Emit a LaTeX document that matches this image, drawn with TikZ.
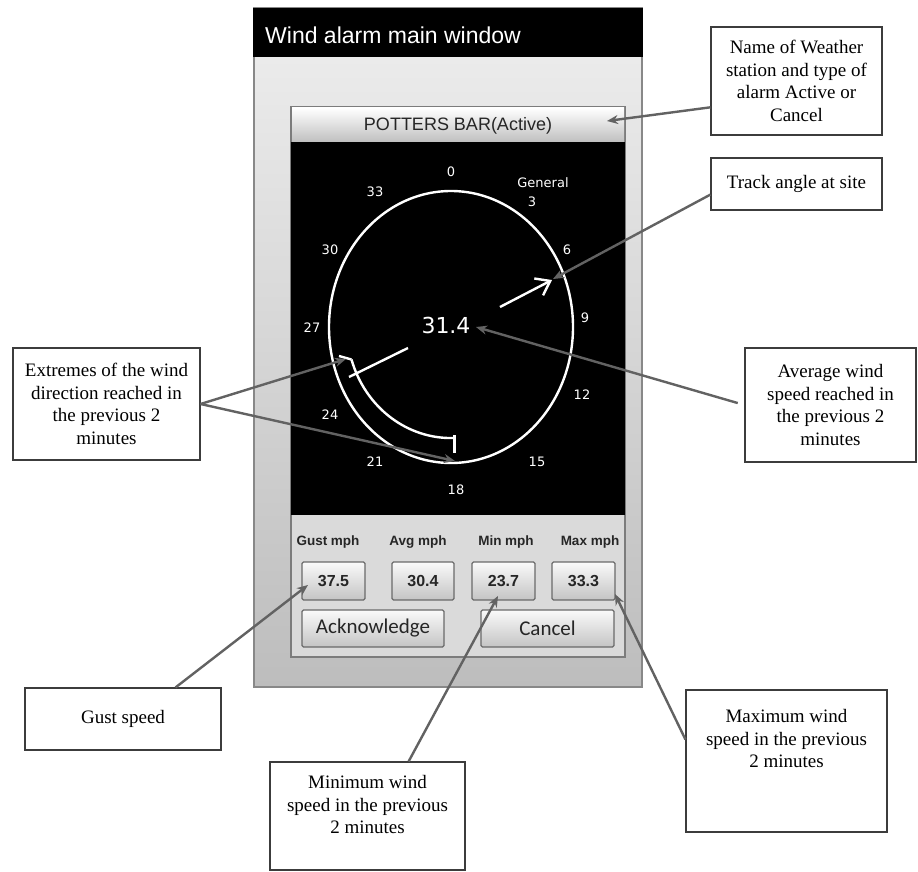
\documentclass[tikz,border=0pt]{standalone}
\usepackage{fontspec}
\setmainfont{Liberation Serif}
\newfontfamily\uisans{Liberation Sans}
\newfontfamily\dialfont{DejaVu Sans}
\newfontfamily\btnfont{Carlito}
\usetikzlibrary{arrows.meta}
\definecolor{callgray}{HTML}{626262}
\definecolor{boxline}{HTML}{3C3C3C}
\definecolor{wintop}{HTML}{EBEBEB}
\definecolor{winbot}{HTML}{BDBDBD}
\definecolor{winedge}{HTML}{888888}
\definecolor{panelfill}{HTML}{DADADA}
\definecolor{paneledge}{HTML}{7C7C7C}
\definecolor{btntop}{HTML}{FAFAFA}
\definecolor{btnbot}{HTML}{C4C4C4}
\definecolor{btnedge}{HTML}{6A6A6A}
\begin{document}
\begin{tikzpicture}[x=1pt,y=-1pt,
  callout/.style={draw=boxline, line width=1.1pt, fill=white, align=center,
    font=\fontsize{19}{22.5}\selectfont, inner sep=2pt},
  pointer/.style={draw=callgray, line width=2.4pt, -{Stealth[length=11pt,width=9pt]}},
  dialnum/.style={text=white, font=\dialfont\fontsize{13}{15}\selectfont, inner sep=0pt},
  collabel/.style={font=\uisans\bfseries\fontsize{13.5}{15}\selectfont, inner sep=0pt, text=black!85},
  valbox/.style={draw=btnedge, line width=1.2pt, rounded corners=1.5pt, top color=btntop,
    bottom color=btnbot, minimum height=38pt, font=\uisans\bfseries\fontsize{16}{18}\selectfont,
    inner sep=0pt, text=black!85},
  btn/.style={draw=btnedge, line width=1.2pt, rounded corners=1.5pt, top color=btntop,
    bottom color=btnbot, minimum height=37pt, font=\btnfont\fontsize{21}{24}\selectfont,
    inner sep=0pt, text=black!85},
  whiteline/.style={draw=white, line width=2.4pt}
]
\useasboundingbox (0,0) rectangle (918,872);
\fill[white] (0,0) rectangle (918,872);

% window
\shade[top color=wintop, bottom color=winbot] (254,57) rectangle (642,687);
\draw[winedge, line width=1.8pt] (254,8) rectangle (642,687);
\fill[black] (253,8) rectangle (643,57);
\node[anchor=west, text=white, font=\uisans\fontsize{23}{26}\selectfont, inner sep=0pt]
  (title) at (265,35) {Wind alarm main window};

% inner panel
\filldraw[fill=panelfill, draw=paneledge, line width=1.5pt] (291,107) rectangle (625,657);
\shade[top color=white, bottom color=black!25] (292,108) rectangle (624,142);
\node[font=\uisans\fontsize{18}{20}\selectfont, inner sep=0pt, text=black!85]
  (header) at (458,126) {POTTERS BAR(Active)};
\fill[black] (291,142) rectangle (625,515);

% dial
\draw[whiteline] (451,327) ellipse [x radius=122, y radius=136];
\node[dialnum] (d0)  at (451,172) {0};
\node[dialnum] (d33) at (375,192) {33};
\node[dialnum] (gen) at (543,183) {General};
\node[dialnum] (d3)  at (532,202) {3};
\node[dialnum] (d30) at (330,250) {30};
\node[dialnum] (d6)  at (567,250) {6};
\node[dialnum] (d27) at (312,328) {27};
\node[dialnum] (d9)  at (585,318) {9};
\node[dialnum] (d12) at (582,395) {12};
\node[dialnum] (d24) at (330,415) {24};
\node[dialnum] (d21) at (375,462) {21};
\node[dialnum] (d15) at (537,462) {15};
\node[dialnum] (d18) at (456,490) {18};
\node[text=white, font=\dialfont\fontsize{22}{24}\selectfont, inner sep=0pt] (avg) at (446,325) {31.4};

% track arrow
\coordinate (trackS) at (500,307);
\coordinate (trackE) at (552,280);
\draw[whiteline, -{Straight Barb[length=13pt,width=19pt]}] (trackS) -- (trackE);

% extremes arc
\coordinate (arcA) at (351.5,359.5);
\coordinate (arcAt) at (339,356);
\coordinate (arcBt1) at (454.6,435);
\coordinate (arcBt2) at (454.6,453);
\draw[whiteline] (arcA) arc[start angle=163, end angle=88, x radius=104, y radius=111];
\draw[whiteline] (arcA) -- (arcAt);
\draw[whiteline] (arcBt1) -- (arcBt2);
\coordinate (needS) at (408,348);
\coordinate (needE) at (349,377);
\draw[whiteline] (needS) -- (needE);

% lower panel
\node[collabel] (lg) at (328,542) {Gust mph};
\node[collabel] (la) at (418,542) {Avg mph};
\node[collabel] (lmin) at (506,542) {Min mph};
\node[collabel] (lmax) at (590,542) {Max mph};
\node[valbox, minimum width=63pt] (vg) at (333.5,581) {37.5};
\node[valbox, minimum width=62pt] (va) at (423,581) {30.4};
\node[valbox, minimum width=63pt] (vmin) at (503.5,581) {23.7};
\node[valbox, minimum width=63pt] (vmax) at (583.5,581) {33.3};
\node[btn, minimum width=142pt] (ack) at (373,628.5) {Acknowledge};
\node[btn, minimum width=133pt] (cancel) at (547.5,628.5) {Cancel};

% callouts
\node[callout, minimum width=171pt, minimum height=108pt] (cname) at (796.5,81)
  {Name of Weather\\station and type of\\alarm Active or\\Cancel};
\node[callout, minimum width=171pt, minimum height=52pt] (ctrack) at (796.5,184)
  {Track angle at site};
\node[callout, minimum width=187pt, minimum height=112pt] (cext) at (106.5,404)
  {Extremes of the wind\\direction reached in\\the previous 2\\minutes};
\node[callout, minimum width=171pt, minimum height=114pt] (cavg) at (830.5,405)
  {Average wind\\speed reached in\\the previous 2\\minutes};
\node[callout, minimum width=196pt, minimum height=62pt] (cgust) at (123,719)
  {Gust speed};
\node[callout, minimum width=195pt, minimum height=108pt] (cmin) at (367.5,816)
  {Minimum wind\\speed in the previous\\2 minutes\\\mbox{}};
\node[callout, minimum width=201pt, minimum height=142pt] (cmax) at (786.5,761)
  {Maximum wind\\speed in the previous\\2 minutes\\\mbox{}\\\mbox{}};

% pointer targets
\coordinate (tName) at (607,121);
\coordinate (tTrack) at (553,279);
\coordinate (tAvg) at (476,327);
\coordinate (tExtA) at (346,359);
\coordinate (tExtB) at (455,461);
\coordinate (tGust) at (308,585);
\coordinate (tMin) at (498,596);
\coordinate (tMax) at (615,594);

\draw[pointer] (cname.197) -- (tName);
\draw[pointer] (ctrack.187) -- (tTrack);
\draw[pointer, shorten <=7pt] (cavg.west) -- (tAvg);
\draw[pointer] (cext.east) -- (tExtA);
\draw[pointer] (cext.east) -- (tExtB);
\draw[pointer] (cgust.31) -- (tGust);
\draw[pointer] (cmin.53) -- (tMin);
\draw[pointer] (cmax.168) -- (tMax);
\end{tikzpicture}
\end{document}
